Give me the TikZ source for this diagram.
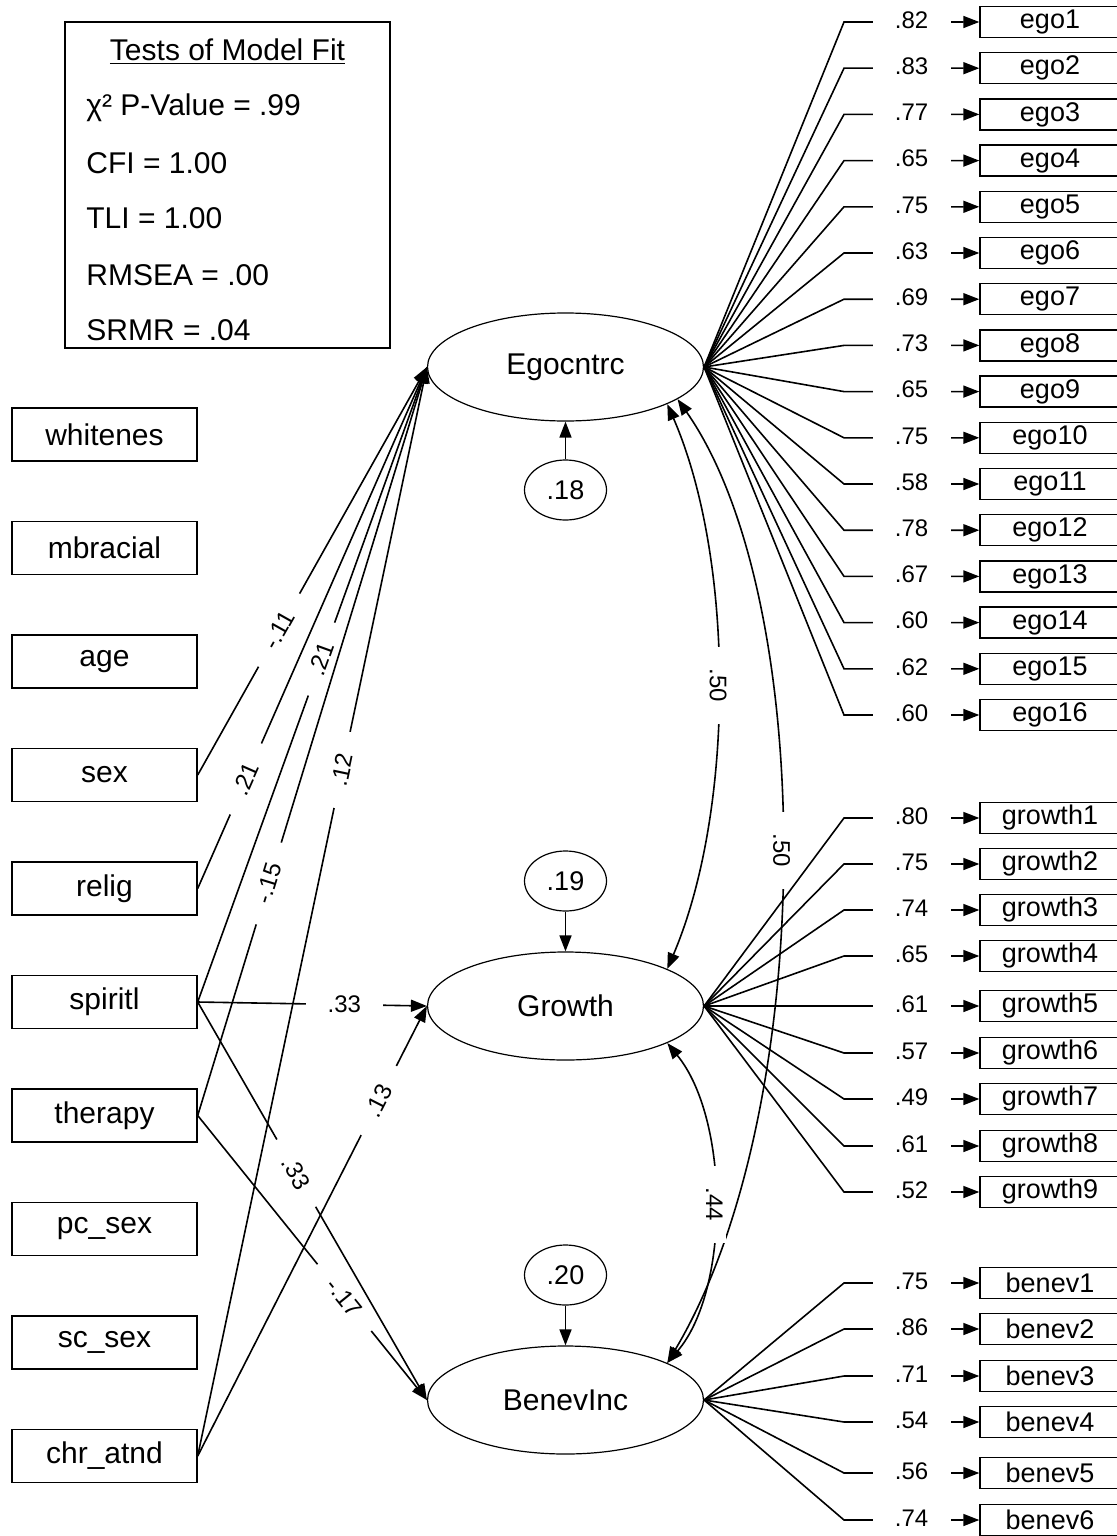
\documentclass[tikz,border=0pt]{standalone}
\usepackage{fontspec}
\setmainfont{Liberation Sans}
\usetikzlibrary{arrows.meta,shapes.geometric}

\tikzset{
  obs/.style={draw, line width=0.7pt, minimum width=92.5pt, minimum height=26.5pt, inner sep=0pt, font=\fontsize{15}{18}\selectfont},
  ind/.style={draw, line width=0.7pt, minimum width=70pt, minimum height=15.5pt, inner sep=0pt, font=\fontsize{13.5}{16}\selectfont},
  lat/.style={ellipse, draw, line width=0.6pt, minimum width=138pt, minimum height=54pt, inner sep=0pt, font=\fontsize{15}{18}\selectfont},
  res/.style={ellipse, draw, line width=0.6pt, minimum width=41pt, minimum height=30pt, inner sep=0pt, font=\fontsize{13.5}{16}\selectfont},
  link/.style={line width=0.8pt},
  arr/.style={link, -{Triangle[length=8pt,width=6pt]}},
  cov/.style={link, {Triangle[length=8pt,width=6pt]}-{Triangle[length=8pt,width=6pt]}},
  coef/.style={fill=white, inner xsep=11pt, inner ysep=1.5pt, font=\fontsize{12}{14}\selectfont},
  ldg/.style={fill=white, minimum width=39pt, inner sep=0pt, font=\fontsize{12}{14}\selectfont},
  fitline/.style={anchor=west, inner sep=0pt, font=\fontsize{15}{18}\selectfont}
}

\begin{document}
\begin{tikzpicture}[x=0.5pt,y=-0.5pt]
\useasboundingbox (0,0) rectangle (1117,1536);

\node[draw, line width=0.7pt, minimum width=162.5pt, minimum height=163pt] (fit) at (227.5,185) {};
\node[inner sep=0pt, font=\fontsize{15}{18}\selectfont] (fittitle) at (227.5,52) {\underline{Tests of Model Fit}};
\node[fitline] (chisq) at (86,108) {χ² P-Value = .99};
\node[fitline] (cfi) at (86,163) {CFI = 1.00};
\node[fitline] (tli) at (86,218) {TLI = 1.00};
\node[fitline] (rmsea) at (86,275) {RMSEA = .00};
\node[fitline] (srmr) at (86,330) {SRMR = .04};

\foreach \n/\t [count=\k from 0] in {whitenes/whitenes, mbracial/mbracial, age/age, sex/sex, relig/relig, spiritl/spiritl, therapy/therapy, pcsex/pc\_sex, scsex/sc\_sex, chratnd/chr\_atnd}{
  \pgfmathsetmacro\yy{434.5+113.5*\k}
  \node[obs] (\n) at (104.5,\yy) {\t};
}

\node[lat] (Ego) at (565.5,367) {Egocntrc};
\node[lat] (Growth) at (565.5,1006) {Growth};
\node[lat] (Benev) at (565.5,1400) {BenevInc};

\node[res] (r1) at (565.5,490) {.18};
\node[res] (r2) at (565.5,881) {.19};
\node[res] (r3) at (565.5,1275) {.20};
\draw[arr] (r1) -- (Ego);
\draw[arr] (r2) -- (Growth);
\draw[arr] (r3) -- (Benev);

\draw[arr] (sex.east) -- node[coef, sloped, pos=.355] {-.11} (Ego.west);
\draw[arr] (relig.east) -- node[coef, sloped, pos=.21] {.21} (Ego.west);
\draw[arr] (spiritl.east) -- node[coef, sloped, pos=.54] {.21} (Ego.west);
\draw[arr] (therapy.east) -- node[coef, sloped, pos=.31] {-.15} (Ego.west);
\draw[arr] (chratnd.east) -- node[coef, sloped, pos=.63] {.12} (Ego.west);
\draw[arr] (spiritl.east) -- node[coef, pos=.64] {.33} (Growth.west);
\draw[arr] (chratnd.east) -- node[coef, sloped, pos=.79] {.13} (Growth.west);
\draw[arr] (spiritl.east) -- node[coef, sloped, pos=.43] {.33} (Benev.west);
\draw[arr] (therapy.east) -- node[coef, sloped, pos=.64] {-.17} (Benev.west);

\draw[cov] (Ego.-20) .. controls (735,560) and (735,810) .. (Growth.20) node[coef, rotate=-90, pos=.5] {.50};
\draw[cov] (Ego.-16) .. controls (818,600) and (818,1110) .. (Benev.20) node[coef, rotate=-90, pos=.49] {.50};
\draw[cov] (Growth.-20) .. controls (730,1120) and (730,1290) .. (Benev.20) node[coef, rotate=-90, pos=.5] {.44};

\foreach \i/\v in {1/.82,2/.83,3/.77,4/.65,5/.75,6/.63,7/.69,8/.73,9/.65,10/.75,11/.58,12/.78,13/.67,14/.60,15/.62,16/.60}{
  \pgfmathsetmacro\yy{22+46.2*(\i-1)}
  \node[ind] (ego\i) at (1050,\yy) {ego\i};
  \draw[arr] (Ego.east) -- (844,\yy) -- node[ldg] {\raisebox{2pt}{\v}} (ego\i.west);
}

\foreach \i/\yy/\v in {1/818/.80,2/864/.75,3/910/.74,4/956/.65,5/1006/.61,6/1053/.57,7/1099/.49,8/1146/.61,9/1192/.52}{
  \node[ind] (growth\i) at (1050,\yy) {growth\i};
  \draw[arr] (Growth.east) -- (844,\yy) -- node[ldg] {\raisebox{2pt}{\v}} (growth\i.west);
}

\foreach \i/\yy/\v in {1/1283/.75,2/1329/.86,3/1376/.71,4/1422/.54,5/1473/.56,6/1520/.74}{
  \node[ind] (benev\i) at (1050,\yy) {benev\i};
  \draw[arr] (Benev.east) -- (844,\yy) -- node[ldg] {\raisebox{2pt}{\v}} (benev\i.west);
}
\end{tikzpicture}
\end{document}
